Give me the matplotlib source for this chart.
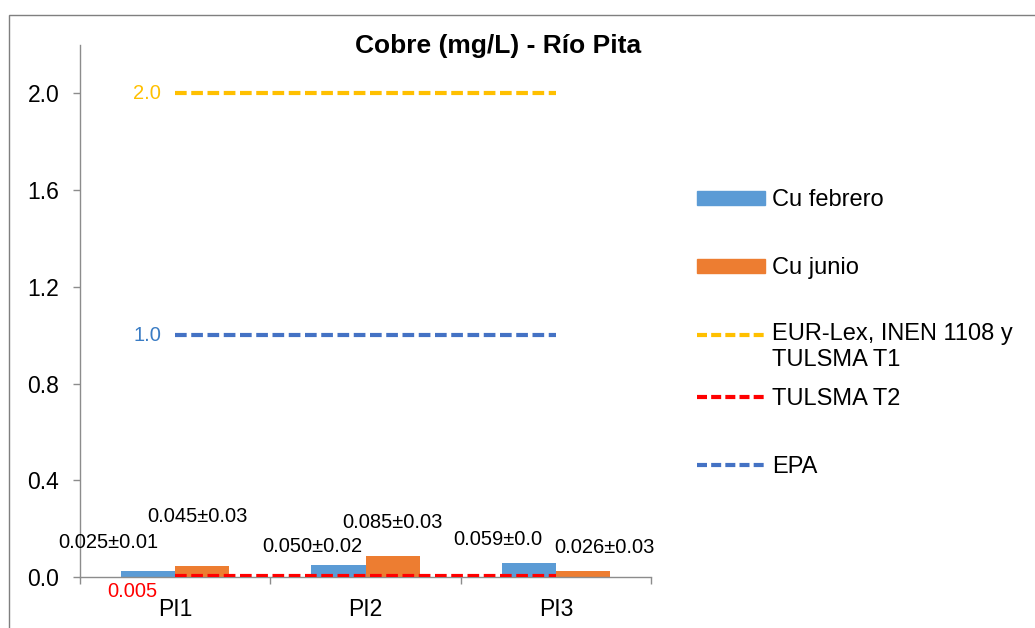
import numpy as np
import matplotlib
matplotlib.use("Agg")
import matplotlib.pyplot as plt
from matplotlib.lines import Line2D
from matplotlib.patches import Patch, Rectangle
from matplotlib.legend_handler import HandlerLine2D

plt.rcParams['font.family'] = ['Liberation Sans', 'DejaVu Sans']

# ---- data ----
categories = ['PI1', 'PI2', 'PI3']
cu_febrero = [0.025, 0.050, 0.059]
cu_junio = [0.045, 0.085, 0.026]
febrero_labels = ['0.025±0.01', '0.050±0.02', '0.059±0.0']
junio_labels = ['0.045±0.03', '0.085±0.03', '0.026±0.03']
lim_eur = 2.0
lim_t2 = 0.005
lim_epa = 1.0
yticks = [0.0, 0.4, 0.8, 1.2, 1.6, 2.0]

C_FEB = '#5B9BD5'
C_JUN = '#ED7D31'
C_EUR = '#FFC000'
C_T2 = '#FF0000'
C_EPA = '#4472C4'
GRAY = '#8C8C8C'

W, H = 1035, 628
fig = plt.figure(figsize=(W / 100, H / 100), dpi=100)

# outer chart border
fig.patches.append(Rectangle((9 / W, -0.05), 1.2, 1 - 15 / H + 0.05,
                             transform=fig.transFigure, fill=False,
                             edgecolor='#7F7F7F', lw=1.0))

ax = fig.add_axes([80 / W, 1 - 577 / H, (651 - 80) / W, (577 - 45) / H])
x = np.arange(len(categories))
bw = 0.284
b1 = ax.bar(x - bw / 2, cu_febrero, bw, color=C_FEB, zorder=2)
b2 = ax.bar(x + bw / 2, cu_junio, bw, color=C_JUN, zorder=2)

dash = dict(lw=3.0, dashes=(2.8, 1.1), zorder=3)
ax.plot([x[0], x[-1]], [lim_eur, lim_eur], color=C_EUR, **dash)
ax.plot([x[0], x[-1]], [lim_t2, lim_t2], color=C_T2, **dash)
ax.plot([x[0], x[-1]], [lim_epa, lim_epa], color=C_EPA, **dash)

ax.set_xlim(-0.5, len(categories) - 0.5)
ax.set_ylim(0, 2.2)

for s in ['top', 'right']:
    ax.spines[s].set_visible(False)
for s in ['left', 'bottom']:
    ax.spines[s].set_color(GRAY)
    ax.spines[s].set_linewidth(1.0)

ax.set_yticks(yticks)
ax.set_yticklabels([f'{v:.1f}' for v in yticks])
ax.tick_params(axis='y', direction='out', length=5, width=1, color=GRAY,
               labelsize=16.5, pad=10)
ax.set_xticks(x)
ax.set_xticklabels(categories)
ax.tick_params(axis='x', which='major', length=0, labelsize=16.5, pad=15)
ax.set_xticks(np.arange(len(categories) + 1) - 0.5, minor=True)
ax.tick_params(axis='x', which='minor', direction='out', length=5, width=1,
               color=GRAY)

# data labels
feb_off = [(-40, 28), (-26, 18), (-31, 23)]
jun_off = [(-5, 50), (0, 34), (22, 23)]
for i in range(len(categories)):
    ax.annotate(febrero_labels[i], xy=(x[i] - bw / 2, cu_febrero[i]),
                xytext=feb_off[i], textcoords='offset pixels',
                ha='center', va='center', fontsize=14.5)
    ax.annotate(junio_labels[i], xy=(x[i] + bw / 2, cu_junio[i]),
                xytext=jun_off[i], textcoords='offset pixels',
                ha='center', va='center', fontsize=14.5)

# limit labels
ax.annotate(f'{lim_eur:.1f}', xy=(x[0], lim_eur), xytext=(-28, 0),
            textcoords='offset pixels', ha='center', va='center',
            fontsize=14.5, color=C_EUR)
ax.annotate(f'{lim_epa:.1f}', xy=(x[0], lim_epa), xytext=(-28, 0),
            textcoords='offset pixels', ha='center', va='center',
            fontsize=14.5, color='#3A7CC4')
ax.annotate(f'{lim_t2}', xy=(x[0], lim_t2), xytext=(-43, -16),
            textcoords='offset pixels', ha='center', va='center',
            fontsize=14.5, color=C_T2)

# title
fig.text(498 / W, 1 - 53 / H, 'Cobre (mg/L) - Río Pita', ha='center',
         va='baseline', fontsize=19, fontweight='bold')


class HandlerTopLine(HandlerLine2D):
    def __init__(self, shift, **kw):
        super().__init__(**kw)
        self.shift = shift

    def create_artists(self, legend, orig_handle, xdescent, ydescent, width,
                       height, fontsize, trans):
        arts = super().create_artists(legend, orig_handle, xdescent, ydescent,
                                      width, height, fontsize, trans)
        for a in arts:
            if isinstance(a, Line2D):
                a.set_ydata(np.asarray(a.get_ydata()) + self.shift)
        return arts


ldash = dict(lw=3.0, dashes=(2.4, 1.0))
entries = [
    (Patch(color=C_FEB), 'Cu febrero', 200, None),
    (Patch(color=C_JUN), 'Cu junio', 268, None),
    (Line2D([], [], color=C_EUR, **ldash), 'EUR-Lex, INEN 1108 y\nTULSMA T1', 347, 9.4),
    (Line2D([], [], color=C_T2, **ldash), 'TULSMA T2', 399, None),
    (Line2D([], [], color=C_EPA, **ldash), 'EPA', 467, None),
]
for h, lab, yc, shift in entries:
    hm = {h: HandlerTopLine(shift)} if shift else None
    fig.legend(handles=[h], labels=[lab], loc='center left',
               bbox_to_anchor=(697 / W, 1 - yc / H), frameon=False,
               borderpad=0, borderaxespad=0, handletextpad=0.3,
               handlelength=2.88, handleheight=0.55, fontsize=17,
               handler_map=hm)

fig.savefig('out.png', dpi=100)
